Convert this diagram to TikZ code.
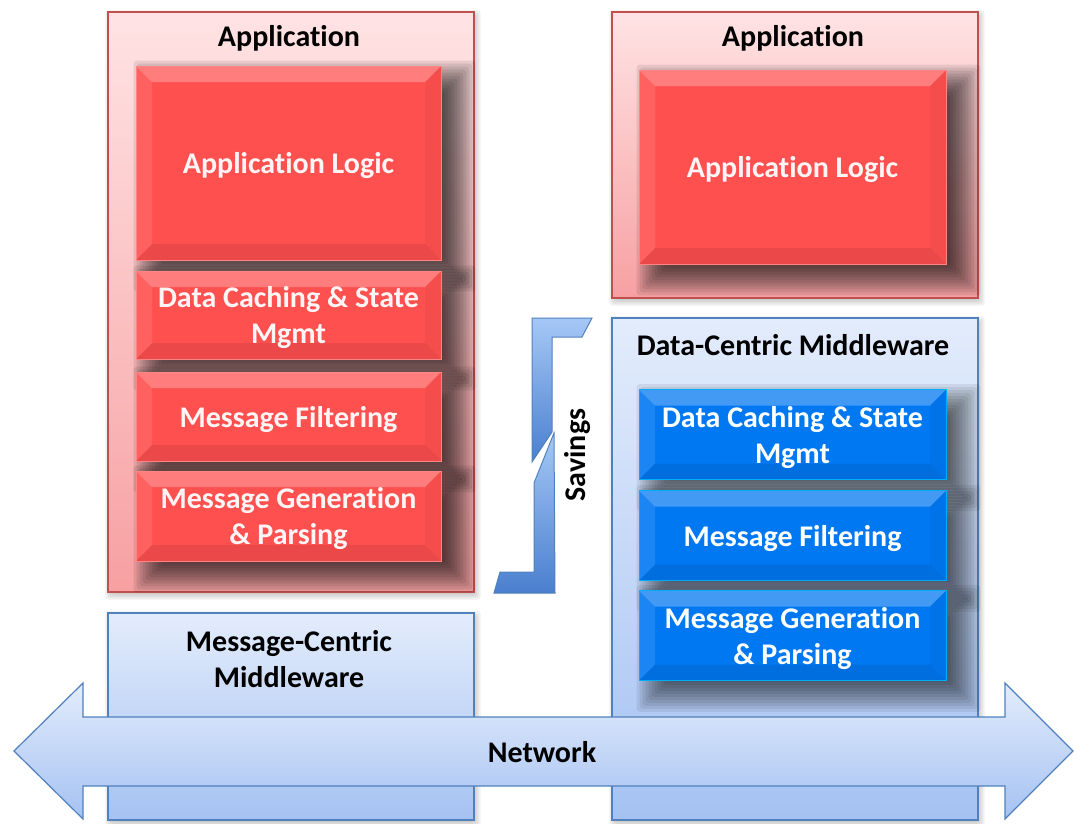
\documentclass[tikz,border=0pt]{standalone}
\usepackage{fontspec}
\setmainfont{Carlito}[Ligatures=NoCommon]

\definecolor{appred}{HTML}{FF5050}
\definecolor{apppink}{HTML}{FFE3E4}
\definecolor{approse}{HTML}{F7A0A2}
\definecolor{appline}{HTML}{C0504D}
\definecolor{dcblue}{HTML}{0078F2}
\definecolor{mwtop}{HTML}{E3ECFC}
\definecolor{mwbot}{HTML}{A5C2F2}
\definecolor{mwline}{HTML}{4F81BD}
\definecolor{svtop}{HTML}{A6C8F6}
\definecolor{svbot}{HTML}{4A7FCF}

\pgfdeclarelayer{bgshadow}
\pgfdeclarelayer{back}
\pgfdeclarelayer{mid}
\pgfsetlayers{bgshadow,back,mid,main}

% soft shadow behind a node: node, xshift, yshift, radius, steps, opacity per step
\newcommand{\dropshade}[6]{%
  \foreach \k in {1,...,#5} {
    \pgfmathsetmacro{\e}{#4-2*#4*(\k-1)/#5}
    \pgfmathsetmacro{\xa}{#2-\e}
    \pgfmathsetmacro{\ya}{#3+\e}
    \pgfmathsetmacro{\xb}{#2+\e}
    \pgfmathsetmacro{\yb}{#3-\e}
    \fill[black, opacity=#6, rounded corners=3pt]
      ([xshift=\xa pt, yshift=\ya pt]#1.north west) rectangle ([xshift=\xb pt, yshift=\yb pt]#1.south east);
  }
}

\tikzset{
  txt/.style={font=\bfseries\fontsize{30}{36}\selectfont, align=center, inner sep=0pt},
  bevel/.style={path picture={
      \fill[white, opacity=.26] (path picture bounding box.north west) -- (path picture bounding box.north east)
        -- ([xshift=-#1, yshift=-#1]path picture bounding box.north east) -- ([xshift=#1, yshift=-#1]path picture bounding box.north west) -- cycle;
      \fill[white, opacity=.10] (path picture bounding box.north west) -- (path picture bounding box.south west)
        -- ([xshift=#1, yshift=#1]path picture bounding box.south west) -- ([xshift=#1, yshift=-#1]path picture bounding box.north west) -- cycle;
      \fill[black, opacity=.08] (path picture bounding box.south west) -- (path picture bounding box.south east)
        -- ([xshift=-#1, yshift=#1]path picture bounding box.south east) -- ([xshift=#1, yshift=#1]path picture bounding box.south west) -- cycle;
      \fill[black, opacity=.04] (path picture bounding box.north east) -- (path picture bounding box.south east)
        -- ([xshift=-#1, yshift=#1]path picture bounding box.south east) -- ([xshift=-#1, yshift=-#1]path picture bounding box.north east) -- cycle;
    }},
  applayer/.style={draw=appline, line width=1.2pt, top color=apppink, bottom color=approse},
  mwlayer/.style={draw=mwline, line width=1.2pt, top color=mwtop, bottom color=mwbot},
  redbox/.style={txt, fill=appred, text=white!96!red, bevel=16pt, text depth=0pt,
    draw=appred!70!white, line width=.6pt},
  bluebox/.style={txt, fill=dcblue, text=white, bevel=16pt, text depth=0pt,
    draw=dcblue!60!cyan, line width=.6pt},
  savings/.style={draw=mwline, line width=1pt, top color=svtop, bottom color=svbot}
}

\begin{document}
\begin{tikzpicture}[x=1pt, y=-1pt]
  \useasboundingbox (0,0) rectangle (1074,823);

  % message-centric side
  \begin{pgfonlayer}{back}
    \node[mwlayer, minimum width=366pt, minimum height=207pt] (mwl) at (291,716.5) {};
    \node[applayer, minimum width=366pt, minimum height=580pt] (appl) at (291,302) {};
  \end{pgfonlayer}
  \node[txt] (mwlt) at (289,659) {Message-Centric\\Middleware};
  \node[txt] (applt) at (289,38) {Application};
  \node[redbox, minimum width=305pt, minimum height=194pt] (logicl) at (288.5,163) {Application Logic};
  \node[redbox, minimum width=305pt, minimum height=88pt] (cachel) at (288.5,315) {Data Caching \& State\\Mgmt};
  \node[redbox, minimum width=305pt, minimum height=89pt] (filterl) at (288.5,416.5) {Message Filtering};
  \node[redbox, minimum width=305pt, minimum height=90pt] (genl) at (288.5,516) {Message Generation\\\& Parsing};

  % data-centric side
  \begin{pgfonlayer}{back}
    \node[mwlayer, minimum width=366pt, minimum height=502pt] (mwr) at (795,569) {};
    \node[applayer, minimum width=366pt, minimum height=286pt] (appr) at (795,155) {};
  \end{pgfonlayer}
  \node[txt] (mwrt) at (793,345) {Data-Centric Middleware};
  \node[txt] (apprt) at (793,38) {Application};
  \node[redbox, minimum width=307pt, minimum height=194pt] (logicr) at (792.5,167) {Application Logic};
  \node[bluebox, minimum width=307pt, minimum height=90pt] (cacher) at (792.5,434.5) {Data Caching \& State\\Mgmt};
  \node[bluebox, minimum width=307pt, minimum height=90pt] (filterr) at (792.5,535.5) {Message Filtering};
  \node[bluebox, minimum width=307pt, minimum height=90pt] (genr) at (792.5,635.5) {Message Generation\\\& Parsing};

  % shadows
  \begin{pgfonlayer}{bgshadow}
    \foreach \n in {appl,appr,mwl,mwr} {\dropshade{\n}{2}{-3}{4}{4}{.06}}
  \end{pgfonlayer}
  \begin{pgfonlayer}{mid}
    \foreach \n in {logicl,cachel,filterl,genl,logicr} {\dropshade{\n}{16}{-13}{18}{12}{.085}}
    \foreach \n in {cacher,filterr,genr} {\dropshade{\n}{16}{-13}{18}{12}{.07}}
  \end{pgfonlayer}

  % savings bracket
  \draw[savings] (532,318) -- (592,318) -- (582,337) -- (552,337) -- (552,432) -- (532,462) -- cycle;
  \draw[savings] (554,433) -- (555,593) -- (494,593) -- (500,572) -- (534,572) -- (534,483) -- cycle;
  \node[txt, rotate=90] (sav) at (578,455) {Savings};

  % network
  \draw[mwline, line width=1.2pt, top color=mwtop, bottom color=mwbot]
    (14,751) -- (83,683) -- (83,717) -- (1005,717) -- (1005,683) -- (1073,751)
    -- (1005,819) -- (1005,786) -- (83,786) -- (83,819) -- cycle;
  \node[txt] (net) at (542,752) {Network};
\end{tikzpicture}
\end{document}
